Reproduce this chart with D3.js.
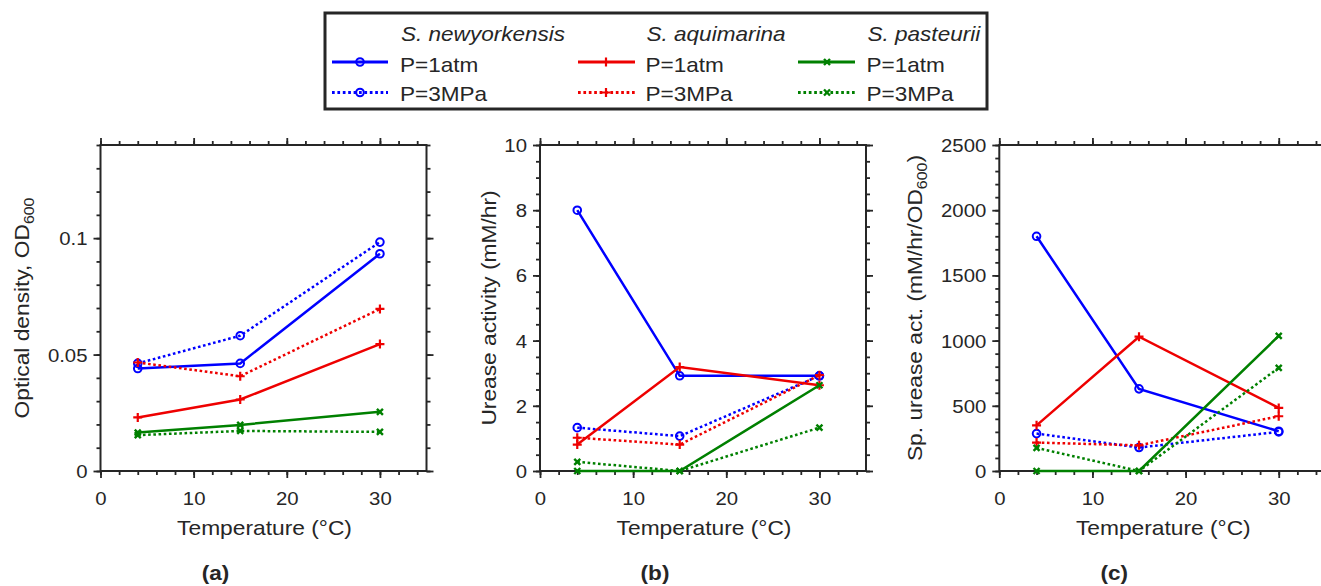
<!DOCTYPE html>
<html><head><meta charset="utf-8">
<script src="https://cdn.jsdelivr.net/npm/d3@7"></script>
<style>body{margin:0;background:#fff}svg{display:block}</style>
</head><body>
<svg id="chart" width="1321" height="586"></svg>
<script>
// ---------------- DATA ----------------
const temperatures = [4, 15, 30];
const speciesNames = ["S. newyorkensis", "S. aquimarina", "S. pasteurii"];
const pressureLabels = ["P=1atm", "P=3MPa"];
const xTickValues = [0, 10, 20, 30];

// (a) Optical density OD600
const odNewyork1atm    = [0.0440, 0.0462, 0.0933];
const odNewyork3MPa    = [0.0462, 0.0581, 0.0983];
const odAquimarina1atm = [0.0230, 0.0307, 0.0545];
const odAquimarina3MPa = [0.0466, 0.0407, 0.0696];
const odPasteurii1atm  = [0.0165, 0.0198, 0.0254];
const odPasteurii3MPa  = [0.0154, 0.0172, 0.0168];
const odTickValues = [0, 0.05, 0.1];

// (b) Urease activity (mM/hr)
const uaNewyork1atm    = [8.0, 2.92, 2.92];
const uaNewyork3MPa    = [1.33, 1.07, 2.92];
const uaAquimarina1atm = [0.81, 3.19, 2.63];
const uaAquimarina3MPa = [1.02, 0.81, 2.94];
const uaPasteurii1atm  = [0, 0, 2.63];
const uaPasteurii3MPa  = [0.28, 0, 1.33];
const uaTickValues = [0, 2, 4, 6, 8, 10];

// (c) Specific urease activity (mM/hr/OD600)
const suNewyork1atm    = [1800, 630, 305];
const suNewyork3MPa    = [287, 180, 300];
const suAquimarina1atm = [350, 1030, 484];
const suAquimarina3MPa = [218, 197, 420];
const suPasteurii1atm  = [0, 0, 1036];
const suPasteurii3MPa  = [177, 0, 791];
const suTickValues = [0, 500, 1000, 1500, 2000, 2500];

// ---------------- STYLE ----------------
const colors = ["#0000ff", "#ee0000", "#008000"];
const markerTypes = ["circle", "plus", "cross"];
const FONT = "'Liberation Sans', Arial, Helvetica, sans-serif";
const INK = "#262626";
const SX = 1.1; // horizontal glyph stretch

const svg = d3.select("#chart");

function marker(g, type, x, y, color) {
  if (type === "circle") {
    g.append("circle").attr("cx", x).attr("cy", y).attr("r", 3.8)
      .attr("fill", "none").attr("stroke", color).attr("stroke-width", 2);
  } else if (type === "plus") {
    g.append("path").attr("d", `M${x-4.5},${y}H${x+4.5}M${x},${y-4.5}V${y+4.5}`)
      .attr("stroke", color).attr("stroke-width", 2.2).attr("fill", "none");
  } else {
    g.append("path").attr("d", `M${x-3},${y-3}L${x+3},${y+3}M${x-3},${y+3}L${x+3},${y-3}`)
      .attr("stroke", color).attr("stroke-width", 2.4).attr("fill", "none");
  }
}

function stretchedText(g, x, y, rot, size, anchor) {
  const t = g.append("g").attr("transform", `translate(${x},${y}) rotate(${rot}) scale(${SX},1)`)
    .append("text").attr("text-anchor", anchor)
    .attr("font-family", FONT).attr("font-size", size).attr("fill", INK);
  return t;
}

const TOP = 145, BOTTOM = 471, W = 326;

const panels = [
  { left: 100.5, yMax: 0.14, ticks: odTickValues, minor: 0.01, fmt: d => String(d),
    data: [[odNewyork1atm, odNewyork3MPa], [odAquimarina1atm, odAquimarina3MPa], [odPasteurii1atm, odPasteurii3MPa]],
    label: ["Optical density, OD", "600", ""], labelX: 29, tag: "(a)" },
  { left: 540, yMax: 10, ticks: uaTickValues, minor: 0.5, fmt: d => String(d),
    data: [[uaNewyork1atm, uaNewyork3MPa], [uaAquimarina1atm, uaAquimarina3MPa], [uaPasteurii1atm, uaPasteurii3MPa]],
    label: ["Urease activity (mM/hr)", "", ""], labelX: 495.5, tag: "(b)" },
  { left: 999.3, yMax: 2500, ticks: suTickValues, minor: 100, fmt: d => String(d),
    data: [[suNewyork1atm, suNewyork3MPa], [suAquimarina1atm, suAquimarina3MPa], [suPasteurii1atm, suPasteurii3MPa]],
    label: ["Sp. urease act. (mM/hr/OD", "600", ")"], labelX: 922, tag: "(c)" }
];

panels.forEach(p => {
  const x = d3.scaleLinear().domain([0, 35]).range([p.left, p.left + W]);
  const y = d3.scaleLinear().domain([0, p.yMax]).range([BOTTOM, TOP]);
  const g = svg.append("g");

  const xMinor = d3.range(0, 35, 2);
  const yMinor = d3.range(0, p.yMax + p.minor / 2, p.minor);

  function addAxis(gen, transform, major, minorVals, labels) {
    const a = g.append("g").attr("transform", transform);
    a.call(gen.scale(major.scale).tickValues(minorVals).tickSize(4).tickSizeOuter(0).tickFormat(""));
    const b = g.append("g").attr("transform", transform);
    b.call(gen.scale(major.scale).tickValues(major.values).tickSize(7).tickSizeOuter(0)
      .tickFormat(labels ? major.fmt : ""));
    [a, b].forEach(s => {
      s.select(".domain").remove();
      s.selectAll("line").attr("stroke", INK).attr("stroke-width", 1.8);
    });
    return b;
  }
  // bottom
  const bx = addAxis(d3.axisBottom(), `translate(0,${BOTTOM})`, { scale: x, values: xTickValues, fmt: d => d }, xMinor, true);
  bx.selectAll("text").attr("font-family", FONT).attr("font-size", 18.5).attr("fill", INK)
    .attr("y", 0).attr("dy", 0)
    .attr("transform", `translate(0,33.5) scale(${SX},1)`);
  addAxis(d3.axisTop(), `translate(0,${TOP})`, { scale: x, values: xTickValues }, xMinor, false);
  // left
  const ly = addAxis(d3.axisLeft(), `translate(${p.left},0)`, { scale: y, values: p.ticks, fmt: p.fmt }, yMinor, true);
  ly.selectAll("text").attr("font-family", FONT).attr("font-size", 18.5).attr("fill", INK)
    .attr("x", 0).attr("dy", "0.35em").attr("text-anchor", "end")
    .attr("transform", `translate(-13,0) scale(${SX},1)`);
  addAxis(d3.axisRight(), `translate(${p.left + W},0)`, { scale: y, values: p.ticks }, yMinor, false);

  // box
  g.append("rect").attr("x", p.left).attr("y", TOP).attr("width", W).attr("height", BOTTOM - TOP)
    .attr("fill", "none").attr("stroke", INK).attr("stroke-width", 2);

  // series
  const line = d3.line().x((d, i) => x(temperatures[i])).y(d => y(d));
  p.data.forEach((pair, si) => {
    pair.forEach((vals, pi) => {
      g.append("path").attr("d", line(vals)).attr("fill", "none")
        .attr("stroke", colors[si]).attr("stroke-width", 2.5)
        .attr("stroke-dasharray", pi === 1 ? "2.6,2.6" : null);
      vals.forEach((v, i) => marker(g, markerTypes[si], x(temperatures[i]), y(v), colors[si]));
    });
  });

  // x title
  stretchedText(g, p.left + W / 2 + 1, 534.5, 0, 20.7, "middle").text("Temperature (°C)");
  // y title
  const yt = stretchedText(g, p.labelX, (TOP + BOTTOM) / 2, -90, 20.7, "middle");
  yt.append("tspan").text(p.label[0]);
  if (p.label[1]) yt.append("tspan").attr("font-size", 14.5).attr("dy", 5).text(p.label[1]);
  if (p.label[2]) yt.append("tspan").attr("dy", -5).text(p.label[2]);
  // tag
  stretchedText(g, p.left + 115, 580, 0, 20.5, "middle").attr("font-weight", "bold").text(p.tag);
});

// ---------------- LEGEND ----------------
const lg = svg.append("g");
lg.append("rect").attr("x", 325).attr("y", 13).attr("width", 662).attr("height", 96)
  .attr("fill", "#fff").attr("stroke", INK).attr("stroke-width", 3);
const legendCols = [
  { lineX0: 332, lineX1: 388, mx: 360, tx: 401 },
  { lineX0: 578, lineX1: 635, mx: 606, tx: 646.5 },
  { lineX0: 798, lineX1: 855, mx: 827, tx: 867.5 }
];
const rowLineY = [62, 92.5];
const rowTextY = [71.5, 101];
legendCols.forEach((c, si) => {
  stretchedText(lg, c.tx, 41, 0, 20.5, "start").attr("font-style", "italic").text(speciesNames[si]);
  pressureLabels.forEach((lab, pi) => {
    lg.append("line").attr("x1", c.lineX0).attr("x2", c.lineX1)
      .attr("y1", rowLineY[pi]).attr("y2", rowLineY[pi])
      .attr("stroke", colors[si]).attr("stroke-width", 3)
      .attr("stroke-dasharray", pi === 1 ? "2.7,2.7" : null);
    marker(lg, markerTypes[si], c.mx, rowLineY[pi], colors[si]);
    stretchedText(lg, c.tx - 1, rowTextY[pi], 0, 20.5, "start").text(lab);
  });
});
</script>
</body></html>
